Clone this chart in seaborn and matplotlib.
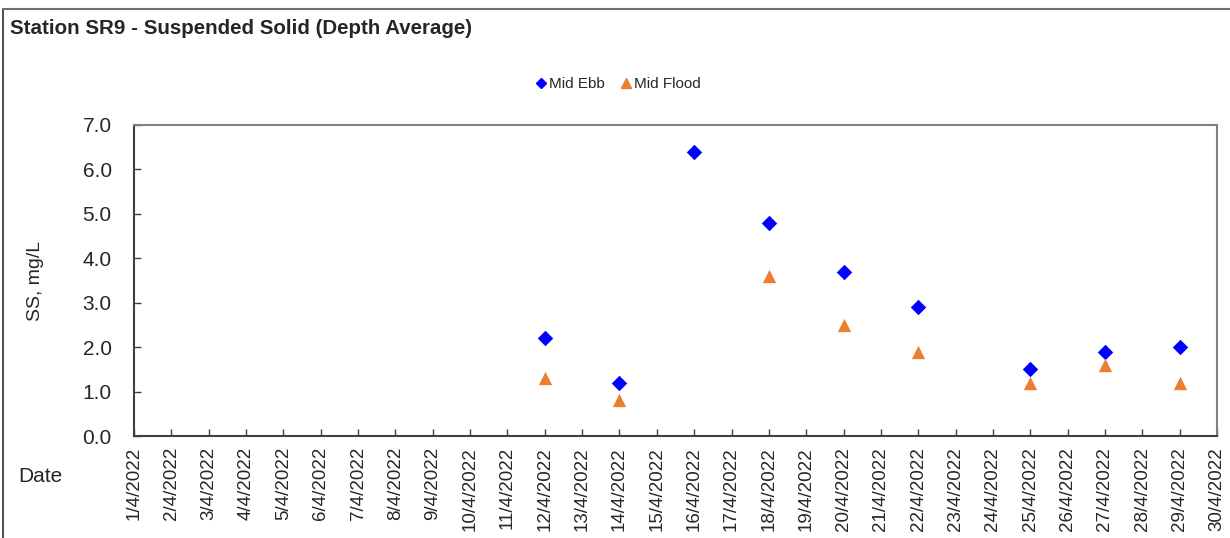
import matplotlib
matplotlib.use("Agg")
import matplotlib.pyplot as plt
import seaborn as sns
import pandas as pd
from matplotlib.lines import Line2D

# ---- data ----
ebb_days = [12, 14, 16, 18, 20, 22, 25, 27, 29]
ebb_values = [2.2, 1.2, 6.4, 4.8, 3.7, 2.9, 1.5, 1.9, 2.0]
flood_days = [12, 14, 18, 20, 22, 25, 27, 29]
flood_values = [1.3, 0.8, 3.6, 2.5, 1.9, 1.2, 1.6, 1.2]
tick_days = list(range(1, 31))
tick_labels = [f"{d}/4/2022" for d in tick_days]
series_names = ["Mid Ebb", "Mid Flood"]
y_ticks = [0, 1, 2, 3, 4, 5, 6, 7]

df = pd.DataFrame({
    "day": ebb_days + flood_days,
    "value": ebb_values + flood_values,
    "series": [series_names[0]] * len(ebb_days) + [series_names[1]] * len(flood_days),
})

sns.set_theme(style="white")
plt.rcParams['font.family'] = ['Liberation Sans', 'DejaVu Sans']

fig = plt.figure(figsize=(12.3, 5.38), dpi=100)
ax = fig.add_axes([134 / 1230, 1 - 436 / 538, (1217 - 134) / 1230, (436 - 125) / 538])

colors = {"Mid Ebb": "#0000FF", "Mid Flood": "#ED7D31"}

sub_e = df[df.series == "Mid Ebb"]
sub_f = df[df.series == "Mid Flood"]
sns.scatterplot(data=sub_e, x="day", y="value", ax=ax, color=colors["Mid Ebb"],
                marker="D", s=62, linewidth=0, legend=False)
sns.scatterplot(data=sub_f, x="day", y="value", ax=ax, color=colors["Mid Flood"],
                marker="^", s=92, linewidth=0, legend=False)

ax.set_xlim(1, 30)
ax.set_ylim(0, 7)
ax.set_xticks(tick_days)
ax.set_xticklabels(tick_labels, rotation=90, fontsize=13.5)
ax.set_yticks(y_ticks)
ax.set_yticklabels([f"{v:.1f}" for v in y_ticks], fontsize=15)
ax.set_xlabel("")
ax.set_ylabel("SS, mg/L", fontsize=14, labelpad=28)

for side in ["top", "right"]:
    ax.spines[side].set_color("#808080")
    ax.spines[side].set_linewidth(1.5)
for side in ["left", "bottom"]:
    ax.spines[side].set_color("#404040")
    ax.spines[side].set_linewidth(1.5)

ax.tick_params(axis="x", direction="in", length=5, width=1, color="#404040", pad=8, bottom=True)
ax.tick_params(axis="y", direction="in", length=5, width=1, color="#404040", pad=16, left=True)

handles = [Line2D([], [], linestyle="none", marker="D", color=colors["Mid Ebb"], markersize=5),
           Line2D([], [], linestyle="none", marker="^", color=colors["Mid Flood"], markersize=7)]
fig.legend(handles, series_names, loc="center", bbox_to_anchor=(618 / 1230, 1 - 84 / 538),
           ncol=2, frameon=False, fontsize=11, handletextpad=0.1, columnspacing=1.0,
           handlelength=0.8)

fig.text(10 / 1230, 1 - 29 / 538, "Station SR9 - Suspended Solid (Depth Average)",
         fontsize=14.8, fontweight="bold", va="center", ha="left")
fig.text(18 / 1230, 1 - 477 / 538, "Date", fontsize=15, va="center", ha="left")

# outer chart border (top and left visible)
fig.add_artist(Line2D([2.5 / 1230, 2.5 / 1230], [0, 1 - 9 / 538], transform=fig.transFigure,
                      color="#404040", linewidth=1.3))
fig.add_artist(Line2D([2.5 / 1230, 1], [1 - 9 / 538, 1 - 9 / 538], transform=fig.transFigure,
                      color="#707070", linewidth=1.5))

fig.savefig("out.png", dpi=100)
